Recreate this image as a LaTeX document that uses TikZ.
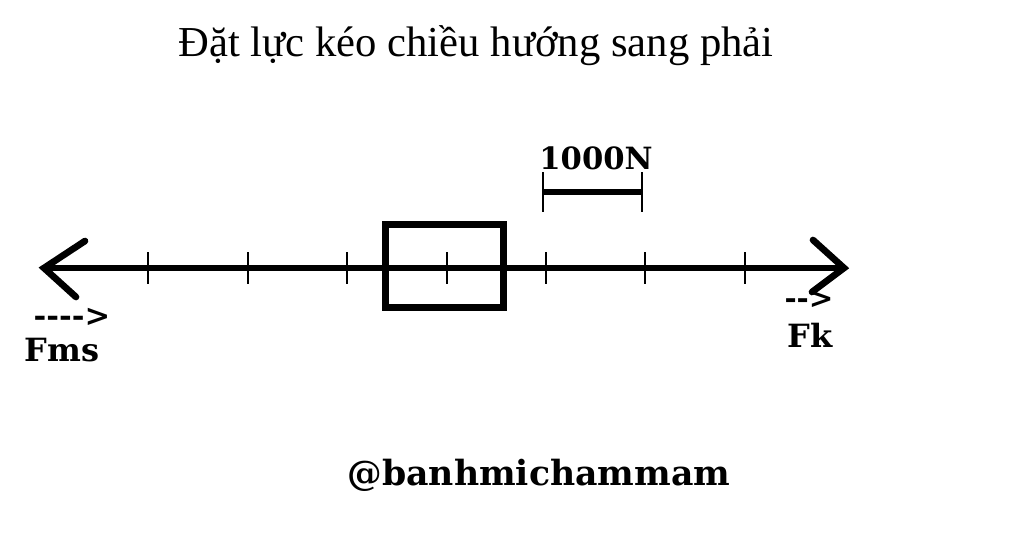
\documentclass[tikz,border=0pt]{standalone}
\usepackage{fontspec}
\setmainfont{Liberation Serif}
\newfontfamily\slabfont{DejaVu Serif}
\usetikzlibrary{positioning}
\definecolor{forceblack}{RGB}{0,0,0}
\newcommand{\arrowdashes}[1]{\foreach \k in {1,...,#1}{-\kern0pt}>}
\tikzset{
	axisline/.style={draw=forceblack, line width=5pt, line cap=round},
	tickmark/.style={draw=forceblack, line width=1.6pt},
	slabtext/.style={font=\slabfont\bfseries\fontsize{24}{24}\selectfont, inner sep=0pt},
}

\begin{document}
\begin{tikzpicture}[x=0.75pt, y=-0.75pt]
	\useasboundingbox (0,0) rectangle (1024,547);
	% title
	\node[font=\fontsize{32}{34}\selectfont, inner sep=0pt] (title) at (476,46) {Đặt lực kéo chiều hướng sang phải};
	% axis with hand drawn heads
	\coordinate (L) at (44,268);
	\coordinate (R) at (844,268);
	\draw[axisline] (L) -- (R);
	\draw[axisline] (L) ++(41,-27) -- (L) -- ++(32,29);
	\draw[axisline] (R) ++(-31,-28) -- (R) -- ++(-32,24);
	\foreach \x in {148,248,347,447,546,645,745}
		\draw[tickmark] (\x,252) -- (\x,284);
	% the body
	\node[
		  draw=forceblack,
		  line width=5pt,
		  minimum width=88.5pt,
		  minimum height=62.5pt,
		  inner sep=0pt
		  ] (body) at (444.5,266) {};
	% scale bar
	\coordinate (s1) at (543,192);
	\coordinate (s2) at (642,192);
	\draw[axisline, line cap=butt] (s1) -- (s2);
	\draw[tickmark] (s1) ++(0,-20) -- ++(0,40);
	\draw[tickmark] (s2) ++(0,-20) -- ++(0,40);
	\node[slabtext, font=\slabfont\bfseries\fontsize{23}{23}\selectfont] (scale) at (596,158) {1000N};
	% force labels
	\node[slabtext, font=\slabfont\bfseries\fontsize{23}{23}\selectfont] (fmsarrow) at (72,317) {\arrowdashes{4}};
	\node[slabtext] (fms) at (62,350) {Fms};
	\node[slabtext, font=\slabfont\bfseries\fontsize{22}{22}\selectfont] (fkarrow) at (809,300) {\arrowdashes{2}};
	\node[slabtext] (fk) at (810,335) {Fk};
	% signature
	\node[slabtext, font=\slabfont\bfseries\fontsize{26}{26}\selectfont] (sign) at (539,475) {@banhmichammam};
\end{tikzpicture}
\end{document}
